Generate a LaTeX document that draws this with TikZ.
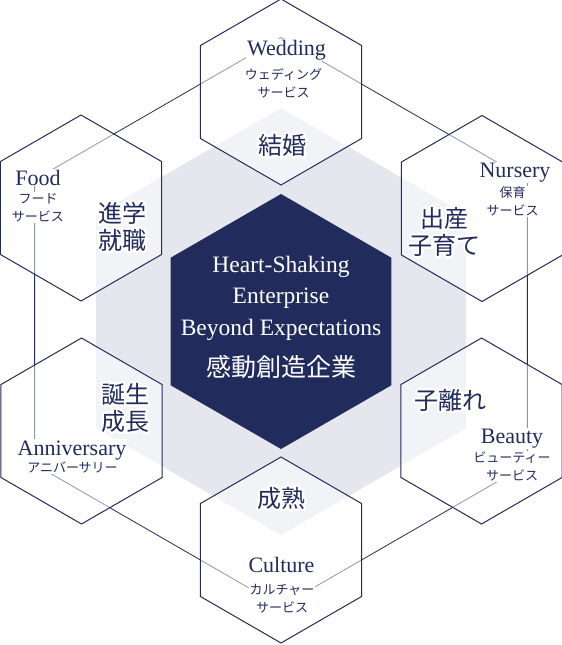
\documentclass[tikz,border=0pt]{standalone}
\usepackage{fontspec}
\usetikzlibrary{shapes.geometric}

\setmainfont{Liberation Serif}
\newfontfamily\jpfont{Noto Sans CJK JP}
\definecolor{navy}{RGB}{33,44,92}
\definecolor{hexgray}{RGB}{230,231,238}

% white glow round the stage words
\newcommand\glow[1]{\special{pdf:literal direct 2 Tr 5 w 1 J 1 j}#1\special{pdf:literal direct 0 Tr}}
\newcommand\glowed[1]{\rlap{\color{white}\glow{#1}}#1}

\tikzset{
  hexagon/.style={regular polygon, regular polygon sides=6, shape border rotate=30, inner sep=0pt},
  cell/.style={hexagon, minimum size=186pt, draw=navy, line width=1pt, fill=white, fill opacity=0.5},
  en/.style={anchor=base, text=navy, fill=white, inner sep=1pt, font=\fontsize{22}{26}\selectfont},
  kana/.style={align=center, text=navy, fill=white, inner sep=1pt, font=\jpfont\fontsize{13}{18}\selectfont},
  stage/.style={align=center, text=navy, inner sep=0pt, font=\jpfont\fontsize{24}{27}\selectfont},
  motto/.style={anchor=base, text=white, inner sep=0pt, font=\fontsize{23.5}{28}\selectfont},
}

\begin{document}
\begin{tikzpicture}[x=1pt,y=-1pt]
        \useasboundingbox (0,0) rectangle (562,645);

        % Gray base and navy core
        \node[hexagon, minimum size=427pt, fill=hexgray] (base) at (281,321.5) {};
        \node[hexagon, minimum size=255pt, fill=navy] (core) at (281,321.5) {};

        % Thin ring through the labels
        \node[hexagon, minimum size=569pt, draw=navy, line width=0.8pt] (ring) at (281,322) {};

        % Outer hexagons
        \node[cell] (wedding) at (281,92) {};
        \node[cell] (food) at (81,208) {};
        \node[cell] (nursery) at (482,208.5) {};
        \node[cell] (anniversary) at (81.5,431) {};
        \node[cell] (beauty) at (481.5,431) {};
        \node[cell] (culture) at (281,550) {};

        % Life stages
        \node[stage] (marriage) at (282,145) {\glowed{結婚}};
        \node[stage] (school) at (122,226.5) {\glowed{進学}\\\glowed{就職}};
        \node[stage] (birth) at (444.5,231.5) {\glowed{出産}\\\glowed{子育て}};
        \node[stage] (growth) at (125,407.5) {\glowed{誕生}\\\glowed{成長}};
        \node[stage] (leaving) at (450,400) {\glowed{子離れ}};
        \node[stage] (mature) at (281,498) {\glowed{成熟}};

        % Services
        \node[en] (wedding-en) at (286.5,55) {Wedding};
        \node[kana] (wedding-jp) at (283.5,83.5) {ウェディング\\サービス};
        \node[en] (food-en) at (38,185) {Food};
        \node[kana] (food-jp) at (38,207.5) {フード\\サービス};
        \node[en] (nursery-en) at (515,177) {Nursery};
        \node[kana] (nursery-jp) at (512.5,201.5) {保育\\サービス};
        \node[en] (anniversary-en) at (72,455) {Anniversary};
        \node[kana] (anniversary-jp) at (72.5,467.5) {アニバーサリー};
        \node[en] (beauty-en) at (512,443) {Beauty};
        \node[kana] (beauty-jp) at (512,466.5) {ビューティー\\サービス};
        \node[en] (culture-en) at (281.5,572) {Culture};
        \node[kana] (culture-jp) at (282,598.5) {カルチャー\\サービス};

        % Centre text
        \node[motto] (motto-1) at (281,272) {Heart-Shaking};
        \node[motto] (motto-2) at (281,303) {Enterprise};
        \node[motto] (motto-3) at (281,335) {Beyond Expectations};
        \node[text=white, inner sep=0pt, font=\jpfont\fontsize{25}{30}\selectfont] (motto-jp) at (281,367) {感動創造企業};
    \end{tikzpicture}
\end{document}
